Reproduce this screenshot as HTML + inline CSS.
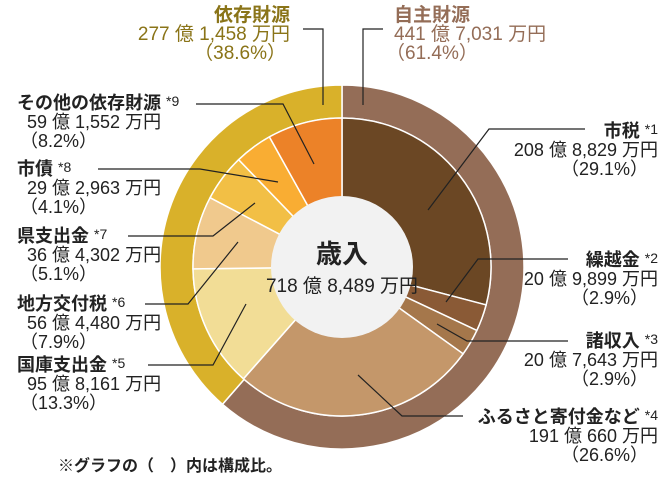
<!DOCTYPE html>
<html><head><meta charset="utf-8"><style>
html,body{margin:0;padding:0;background:#fff;}
body{width:672px;height:485px;overflow:hidden;position:relative;font-family:"Liberation Sans","Noto Sans CJK JP",sans-serif;}
svg{position:absolute;left:0;top:0;}
text{font-family:"Liberation Sans","Noto Sans CJK JP",sans-serif;}
</style></head><body>
<svg id="s" width="672" height="485" viewBox="0 0 672 485" xmlns="http://www.w3.org/2000/svg">
<g id="arcs"></g>
<circle cx="342" cy="267" r="71" fill="#f2f2f2"/>
<g stroke="#222" stroke-width="1.2" fill="none">
<polyline points="303,29 323,29 323,105"/>
<polyline points="383,29 363,29 363,105"/>
<polyline points="196,104 283,104 314,164"/>
<polyline points="98,169 200,169 278,182"/>
<polyline points="128,236 213,236 255,203"/>
<polyline points="145,304 188,304 238,242"/>
<polyline points="148,365 213,365 246,304"/>
<polyline points="585,129 489,129 428,210"/>
<polyline points="568,259 478,259 446,302"/>
<polyline points="568,341 467,341 437,324"/>
<polyline points="463,416 402,416 358,375"/>
</g>
<g fill="#222">
<text x="342" y="263" text-anchor="middle" font-size="26" font-weight="bold">歳入</text>
<text x="342" y="292" text-anchor="middle" font-size="19">718 億 8,489 万円</text>
</g>
<g fill="#8a7418" font-size="19" text-anchor="end">
<text x="290" y="21" font-weight="bold">依存財源</text>
<text x="290" y="40">277 億 1,458 万円</text>
<text x="286" y="59">（38.6%）</text>
</g>
<g fill="#946d57" font-size="19">
<text x="394" y="21" font-weight="bold">自主財源</text>
<text x="394" y="40">441 億 7,031 万円</text>
<text x="386" y="59">（61.4%）</text>
</g>
<g fill="#222" font-size="18">
<text x="17" y="109" font-weight="bold">その他の依存財源 <tspan font-size="14" dy="-3" font-weight="normal">*9</tspan></text>
<text x="27" y="128">59 億 1,552 万円</text>
<text x="20" y="147">（8.2%）</text>
<text x="17" y="175" font-weight="bold">市債 <tspan font-size="14" dy="-3" font-weight="normal">*8</tspan></text>
<text x="27" y="194">29 億 2,963 万円</text>
<text x="20" y="213">（4.1%）</text>
<text x="17" y="242" font-weight="bold">県支出金 <tspan font-size="14" dy="-3" font-weight="normal">*7</tspan></text>
<text x="27" y="261">36 億 4,302 万円</text>
<text x="20" y="280">（5.1%）</text>
<text x="17" y="310" font-weight="bold">地方交付税 <tspan font-size="14" dy="-3" font-weight="normal">*6</tspan></text>
<text x="27" y="329">56 億 4,480 万円</text>
<text x="20" y="348">（7.9%）</text>
<text x="17" y="371" font-weight="bold">国庫支出金 <tspan font-size="14" dy="-3" font-weight="normal">*5</tspan></text>
<text x="27" y="390">95 億 8,161 万円</text>
<text x="20" y="409">（13.3%）</text>
</g>
<g fill="#222" font-size="18" text-anchor="end">
<text x="658" y="137" font-weight="bold">市税 <tspan font-size="14" dy="-3" font-weight="normal">*1</tspan></text>
<text x="658" y="156">208 億 8,829 万円</text>
<text x="648" y="175">（29.1%）</text>
<text x="658" y="266" font-weight="bold">繰越金 <tspan font-size="14" dy="-3" font-weight="normal">*2</tspan></text>
<text x="658" y="285">20 億 9,899 万円</text>
<text x="648" y="304">（2.9%）</text>
<text x="658" y="347" font-weight="bold">諸収入 <tspan font-size="14" dy="-3" font-weight="normal">*3</tspan></text>
<text x="658" y="366">20 億 7,643 万円</text>
<text x="648" y="385">（2.9%）</text>
<text x="658" y="423" font-weight="bold">ふるさと寄付金など <tspan font-size="14" dy="-3" font-weight="normal">*4</tspan></text>
<text x="658" y="442">191 億 660 万円</text>
<text x="648" y="461">（26.6%）</text>
</g>
<text x="58" y="471" font-size="16" font-weight="bold" fill="#222">※グラフの（　）内は構成比。</text>
</svg>
<script>
(function(){
var cx=342,cy=267,g=document.getElementById('arcs'),NS='http://www.w3.org/2000/svg';
function pt(r,a){var t=a/100*2*Math.PI;return [cx+r*Math.sin(t),cy-r*Math.cos(t)];}
function wedge(r0,r1,a0,a1,col){
var l=(a1-a0)>50?1:0,p1=pt(r1,a0),p2=pt(r1,a1),p3=pt(r0,a1),p4=pt(r0,a0);
var d='M'+p1+' A'+r1+','+r1+' 0 '+l+' 1 '+p2+' L'+p3+' A'+r0+','+r0+' 0 '+l+' 0 '+p4+'Z';
var e=document.createElementNS(NS,'path');e.setAttribute('d',d);e.setAttribute('fill',col);
e.setAttribute('stroke','#fff');e.setAttribute('stroke-width','1.5');g.appendChild(e);}
wedge(149,182,0,61.4,'#946d57');wedge(149,182,61.4,100,'#d9b12a');
var s=[[29.1,'#6b4724'],[2.9,'#8a5a36'],[2.9,'#a5774b'],[26.6,'#c4976a'],[13.3,'#f2dd96'],[7.9,'#f0c98d'],[5.1,'#f2bf45'],[4.1,'#f9ad33'],[8.1,'#ec8228']];
var a=0;s.forEach(function(x){wedge(60,149,a,a+x[0],x[1]);a+=x[0];});
})();
</script>
</body></html>
